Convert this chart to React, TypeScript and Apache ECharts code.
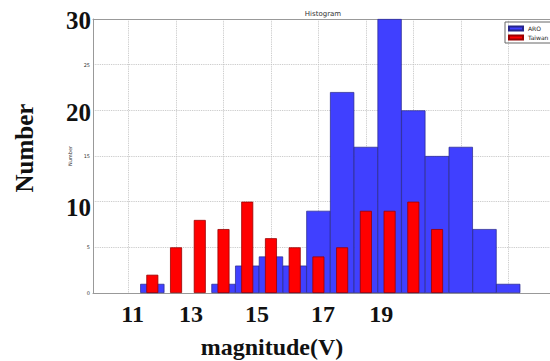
import React, { useEffect, useRef } from "react";
import * as echarts from "echarts";

const binCenters = [11.5, 12, 12.5, 13, 13.5, 14, 14.5, 15, 15.5, 16, 16.5, 17, 17.5, 18, 18.5, 19];
const aroCounts = [1, 0, 0, 1, 3, 4, 3, 9, 22, 16, 30, 20, 15, 16, 7, 1];
const taiwanCounts = [2, 5, 8, 7, 10, 6, 5, 4, 5, 9, 9, 10, 7, 0, 0, 0];
const seriesNames = ["ARO", "Taiwan"];
const yOverlayLabels = ["30", "20", "10"];
const xOverlayLabels = ["11", "13", "15", "17", "19"];
const xAxisMin = 10.25;
const xAxisMax = 19.88;
const yAxisMax = 30;

const serif = "'Liberation Serif', 'DejaVu Serif', serif";

function pairs(xs: number[], ys: number[]) {
  return xs.map((x, i) => [x, ys[i]]).filter((p) => p[1] > 0);
}

export default function App() {
  const ref = useRef<HTMLDivElement>(null);
  useEffect(() => {
    if (!ref.current) return;
    const chart = echarts.init(ref.current, null, { renderer: "svg" });
    const bigText = (text: string, x: number, y: number, align: string, size = 25, extra: any = {}) => ({
      type: "text",
      x,
      y,
      z: 100,
      ...extra,
      style: {
        text,
        fontFamily: serif,
        fontWeight: "bold",
        fontSize: size,
        fill: "#111",
        align,
        verticalAlign: "middle",
      },
    });
    const yPos = [20, 112, 207];
    const xPos = [132.7, 191, 257, 323, 381.3];
    const axisBase = {
      type: "value",
      min: xAxisMin,
      max: xAxisMax,
      minInterval: 1,
      maxInterval: 1,
      axisLabel: { show: false },
      axisTick: { show: false },
    };
    chart.setOption({
      animation: false,
      backgroundColor: "#ffffff",
      title: {
        text: "Histogram",
        left: 323,
        top: 10,
        padding: 0,
        textAlign: "center",
        textStyle: { fontSize: 7, fontWeight: "normal", color: "#333", fontFamily: "DejaVu Sans" },
      },
      legend: {
        orient: "vertical",
        left: 505,
        top: 22,
        padding: [3, 20, 2, 3],
        itemWidth: 14,
        itemHeight: 4,
        itemGap: 2,
        borderColor: "#666",
        borderWidth: 1,
        icon: "rect",
        data: seriesNames,
        textStyle: { fontSize: 6, color: "#222", fontFamily: "DejaVu Sans", lineHeight: 7 },
      },
      grid: { left: 93, top: 19, width: 467, height: 274 },
      xAxis: [
        {
          ...axisBase,
          position: "bottom",
          axisLine: { show: true, onZero: false, lineStyle: { color: "#999", width: 1 } },
          splitLine: { show: true, lineStyle: { color: "#c0c0c0", type: "dotted", width: 0.9 } },
        },
        {
          ...axisBase,
          position: "top",
          axisLine: { show: true, onZero: false, lineStyle: { color: "#999", width: 1 } },
          splitLine: { show: false },
        },
      ],
      yAxis: {
        type: "value",
        min: 0,
        max: yAxisMax,
        interval: 5,
        name: "Number",
        nameLocation: "middle",
        nameGap: 12,
        nameTextStyle: { fontSize: 5, color: "#333", fontFamily: "DejaVu Sans" },
        axisLine: { show: true, lineStyle: { color: "#999", width: 1 } },
        axisTick: { show: false },
        axisLabel: {
          fontSize: 5,
          color: "#333",
          margin: 3,
          fontFamily: "DejaVu Sans",
          formatter: (v: number) => (v > 0 && v % 10 === 0 ? "" : String(v)),
        },
        splitLine: { show: true, lineStyle: { color: "#c0c0c0", type: "dotted", width: 0.9 } },
      },
      series: [
        {
          name: seriesNames[0],
          type: "bar",
          xAxisIndex: 0,
          barWidth: 24.25,
          data: pairs(binCenters, aroCounts),
          itemStyle: { color: "#4040ff", borderColor: "#25258a", borderWidth: 0.7 },
        },
        {
          name: seriesNames[1],
          type: "bar",
          xAxisIndex: 1,
          barWidth: 12,
          z: 3,
          data: pairs(binCenters, taiwanCounts),
          itemStyle: { color: "#ff0000", borderColor: "#990000", borderWidth: 0.8 },
        },
      ],
      graphic: [
        ...yOverlayLabels.map((t, i) => bigText(t, 91, yPos[i], "right")),
        ...xOverlayLabels.map((t, i) => bigText(t, xPos[i], 314, "center", 24)),
        bigText("magnitude(V)", 272, 347, "center", 24),
        bigText("Number", 24, 148, "center", 25, { rotation: Math.PI / 2 }),
      ],
    });
    return () => chart.dispose();
  }, []);
  return (
    <div
      ref={ref}
      style={{ position: "fixed", left: 0, top: 0, width: 550, height: 361, background: "#fff" }}
    />
  );
}
